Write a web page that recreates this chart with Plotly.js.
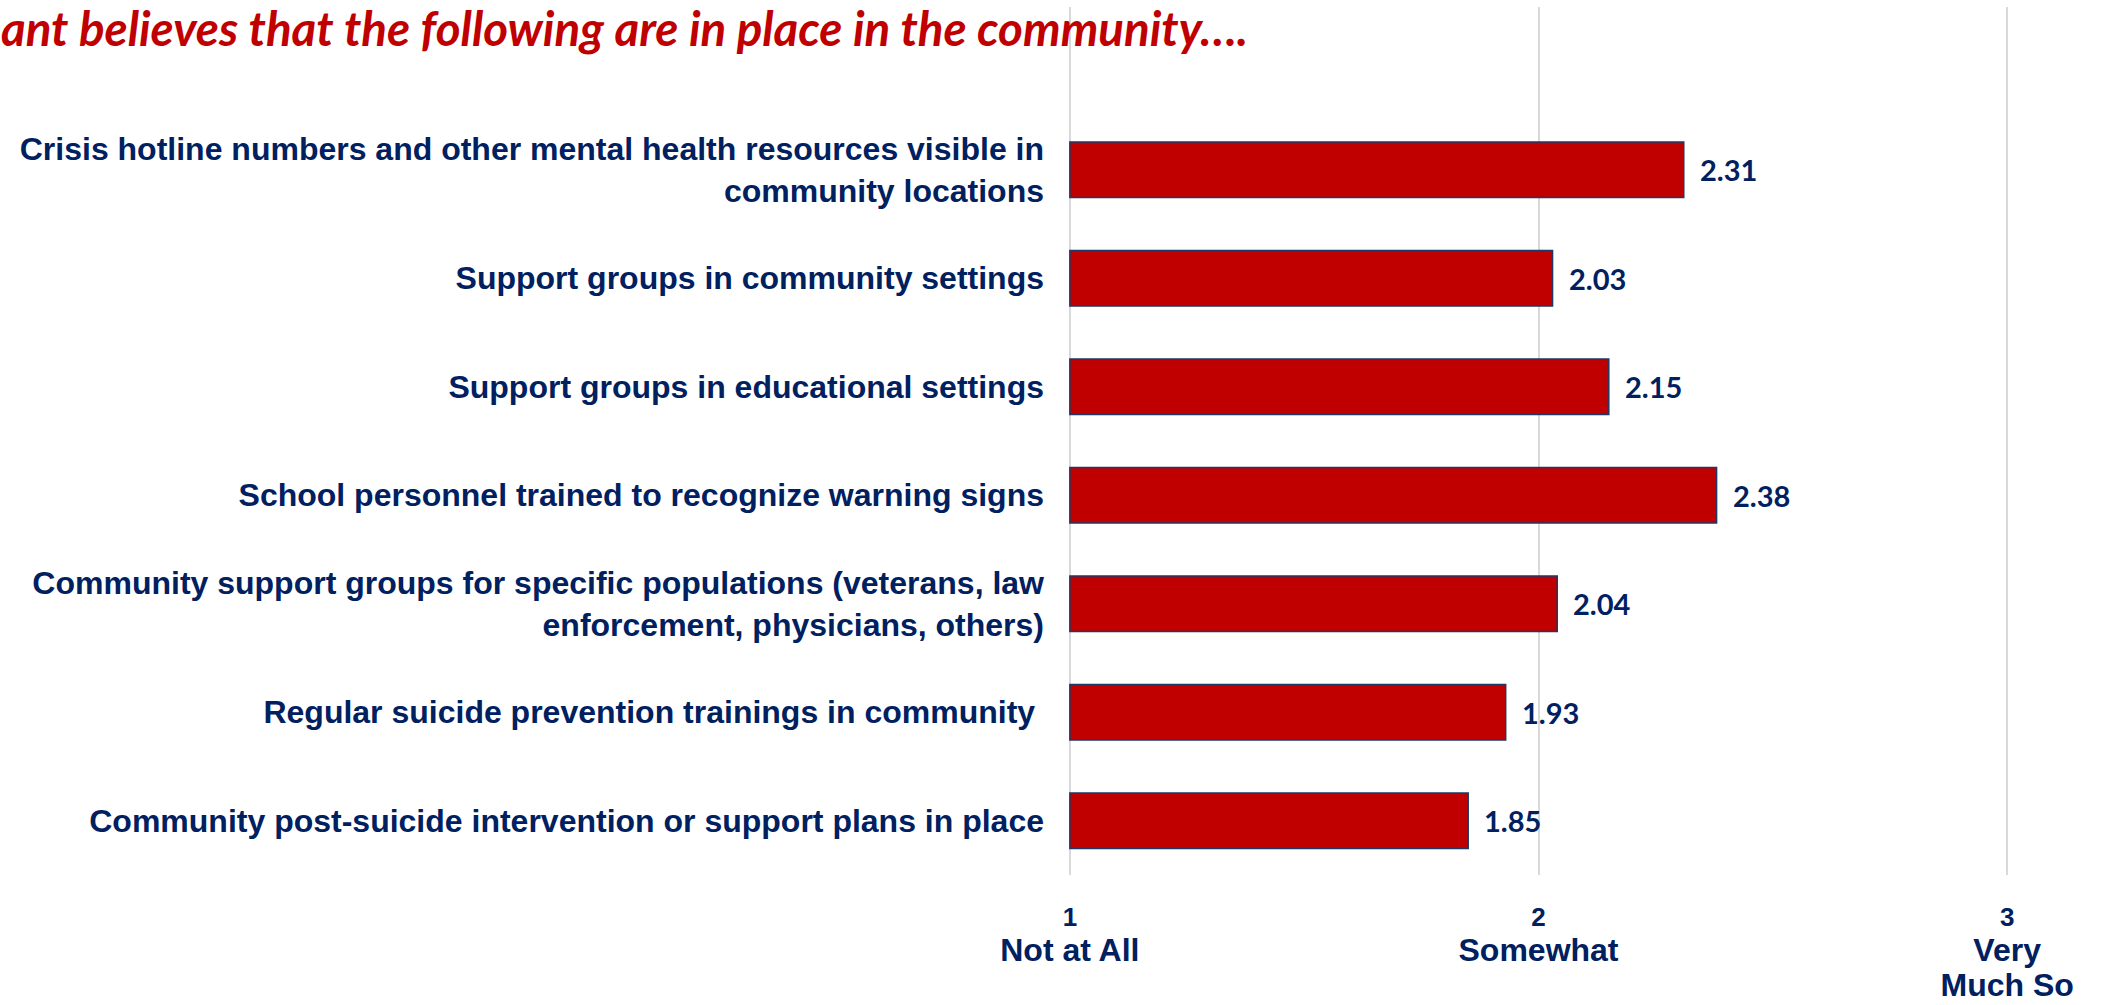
<!DOCTYPE html>
<html>
<head>
<meta charset="utf-8">
<script src="https://cdn.plot.ly/plotly-3.0.1.min.js"></script>
<style>
html,body{margin:0;padding:0;background:#fff;}
#chart{width:2103px;height:1005px;}
</style>
</head>
<body>
<div id="chart"></div>
<script>
// ---- Data (top-to-bottom order as shown) ----
const categories = [
  "Crisis hotline numbers and other mental health resources visible in<br>community locations",
  "Support groups in community settings",
  "Support groups in educational settings",
  "School personnel trained to recognize warning signs",
  "Community support groups for specific populations (veterans, law<br>enforcement, physicians, others)",
  "Regular suicide prevention trainings in community\u00A0",
  "Community post-suicide intervention or support plans in place"
];
const values = [2.31, 2.03, 2.15, 2.38, 2.04, 1.93, 1.85];
const valueLabels = ["2.31", "2.03", "2.15", "2.38", "2.04", "1.93", "1.85"];
const tickValues = [1, 2, 3];
const tickNumbers = ["1", "2", "3"];
const tickWords = ["Not at All", "Somewhat", "Very<br>Much So"];
// Title as visible in the reference (its beginning is cropped off there)
const titleText = "ant believes that the following are in place in the community\u2026.";

// ---- Styles ----
const NAVY = "#002060";
const RED = "#C00000";

const tickText = tickNumbers.map((n, i) => {
  const words = tickWords[i].split("<br>").map(w => "<span style='font-size:32px'>" + w + "</span>").join("<br>");
  return "<span style='font-size:26px'>" + n + "</span><br>" + words;
});

const trace = {
  type: "bar",
  orientation: "h",
  y: categories,
  x: values.map(v => v - 1),
  base: 1,
  marker: { color: RED, line: { color: "#1F3864", width: 1.5 } },
  hoverinfo: "skip",
  cliponaxis: false
};

const annotations = values.map((v, i) => ({
  x: v, y: categories[i], xref: "x", yref: "y",
  text: valueLabels[i], showarrow: false,
  xanchor: "left", yanchor: "middle", xshift: 14,
  font: { family: "Lato, 'Open Sans', sans-serif", size: 29, color: NAVY, weight: "bold" }
}));

const layout = {
  width: 2103, height: 1005,
  margin: { l: 1068, r: 94, t: 7, b: 130, pad: 0 },
  paper_bgcolor: "#fff", plot_bgcolor: "#fff",
  showlegend: false,
  bargap: 0.49,
  title: {
    text: titleText,
    xref: "container", yref: "container",
    x: 1 / 2103, xanchor: "left",
    y: 1 - 29 / 1005, yanchor: "middle",
    font: { family: "Lato, 'Open Sans', sans-serif", size: 47.5, color: RED, weight: "bold", style: "italic" }
  },
  xaxis: {
    range: [0.996, 3.004],
    tickvals: tickValues, ticktext: tickText,
    showgrid: true, gridcolor: "#D9D9D9", gridwidth: 2,
    zeroline: false, showline: false, ticks: "",
    ticklabelstandoff: 23,
    tickfont: { family: "'Liberation Sans', Arial, sans-serif", size: 27, color: NAVY, weight: "bold" },
    fixedrange: true
  },
  yaxis: {
    type: "category",
    range: [6.5, -1.5],
    showgrid: false, zeroline: false, showline: false, ticks: "",
    ticklabelstandoff: 23,
    tickfont: { family: "'Liberation Sans', Arial, sans-serif", size: 32, color: NAVY, weight: "bold" },
    fixedrange: true
  },
  annotations: annotations
};

Plotly.newPlot("chart", [trace], layout, { displayModeBar: false, staticPlot: true });
</script>
</body>
</html>
